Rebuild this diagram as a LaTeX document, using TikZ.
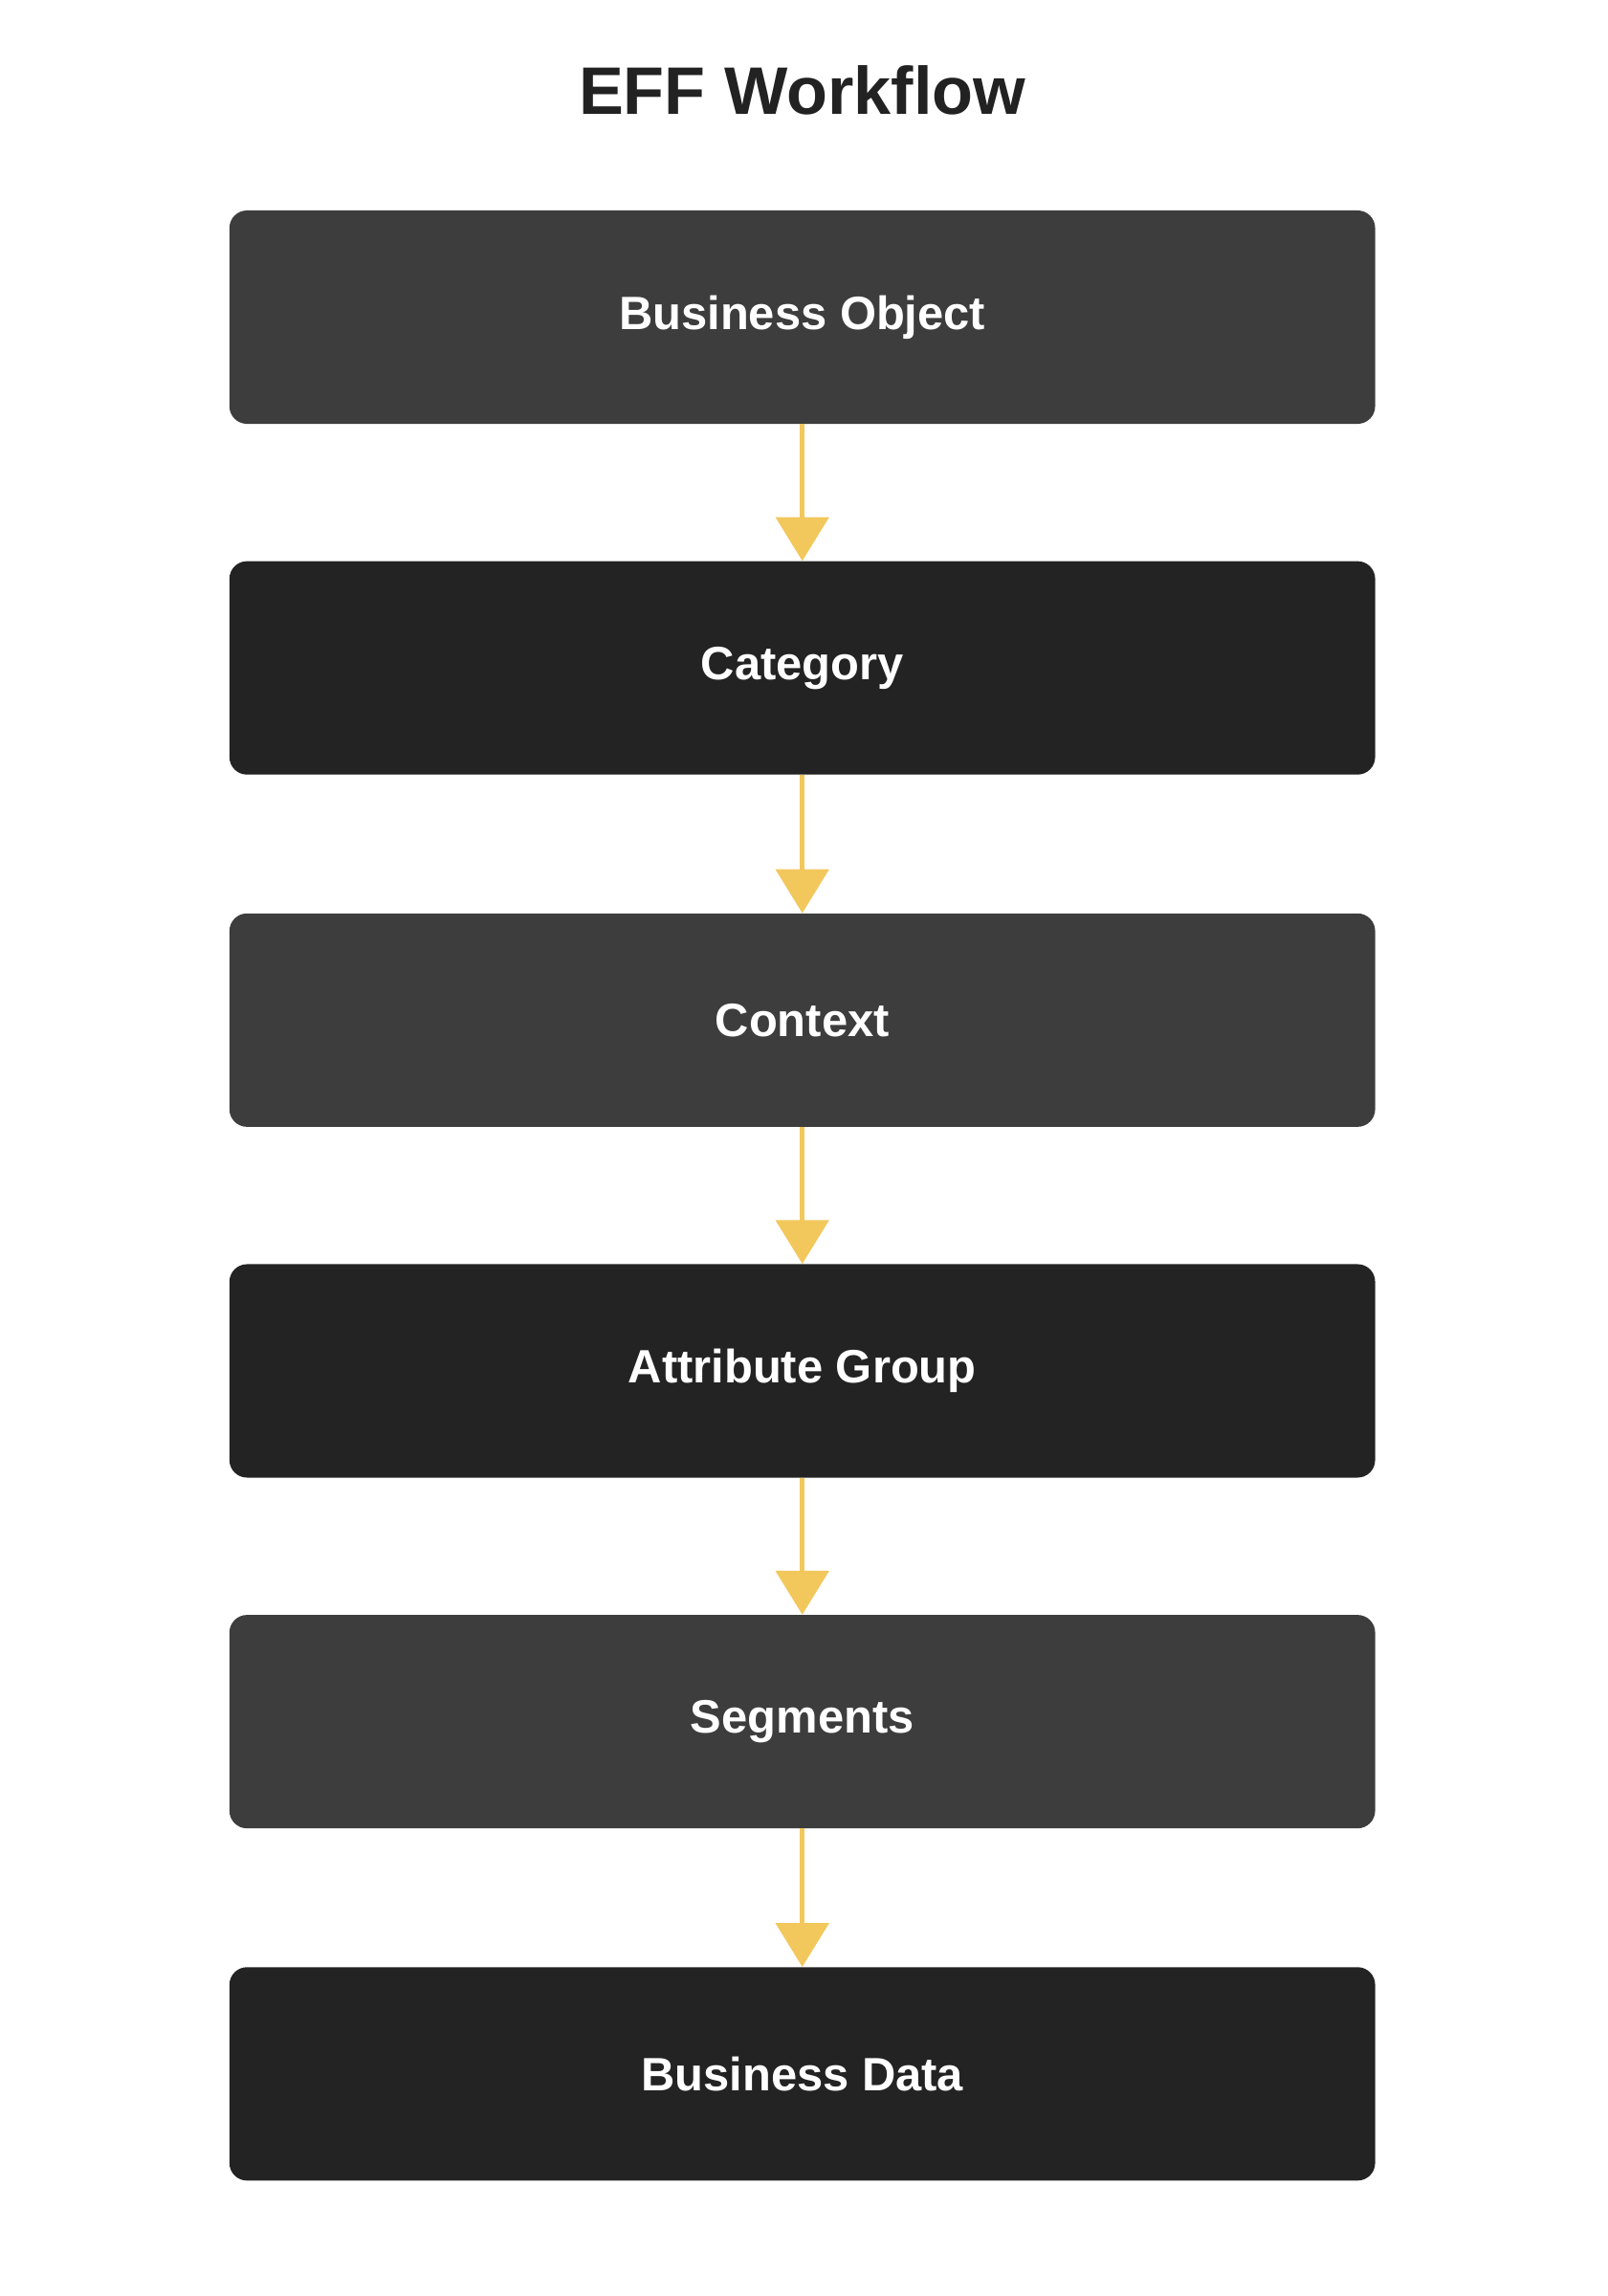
\documentclass[tikz,border=0pt]{standalone}
\usepackage{fontspec}
\setmainfont{Liberation Sans}
\usetikzlibrary{arrows.meta}
\definecolor{boxA}{HTML}{3D3D3D}
\definecolor{boxB}{HTML}{232323}
\definecolor{arr}{HTML}{F2C75C}
\definecolor{ttl}{HTML}{222222}
\begin{document}
\begin{tikzpicture}[x=1pt,y=-1pt,
  box/.style={draw=none,rounded corners=12pt,minimum width=784pt,minimum height=146pt,text=white,font=\fontsize{32}{38}\selectfont\bfseries,inner sep=0pt},
  link/.style={draw=arr,line width=3.5pt,-{Triangle[width=36pt,length=30pt]}}]
\useasboundingbox (0,0) rectangle (1100,1571);
\node[font=\fontsize{46}{54}\selectfont\bfseries,text=ttl] (title) at (549,62) {EFF Workflow};
\node[box,fill=boxA] (n1) at (549,217) {Business Object};
\node[box,fill=boxB] (n2) at (549,457) {Category};
\node[box,fill=boxA] (n3) at (549,698) {Context};
\node[box,fill=boxB] (n4) at (549,938) {Attribute Group};
\node[box,fill=boxA] (n5) at (549,1178) {Segments};
\node[box,fill=boxB] (n6) at (549,1419) {Business Data};
\draw[link] (n1) -- (n2);
\draw[link] (n2) -- (n3);
\draw[link] (n3) -- (n4);
\draw[link] (n4) -- (n5);
\draw[link] (n5) -- (n6);
\end{tikzpicture}
\end{document}
